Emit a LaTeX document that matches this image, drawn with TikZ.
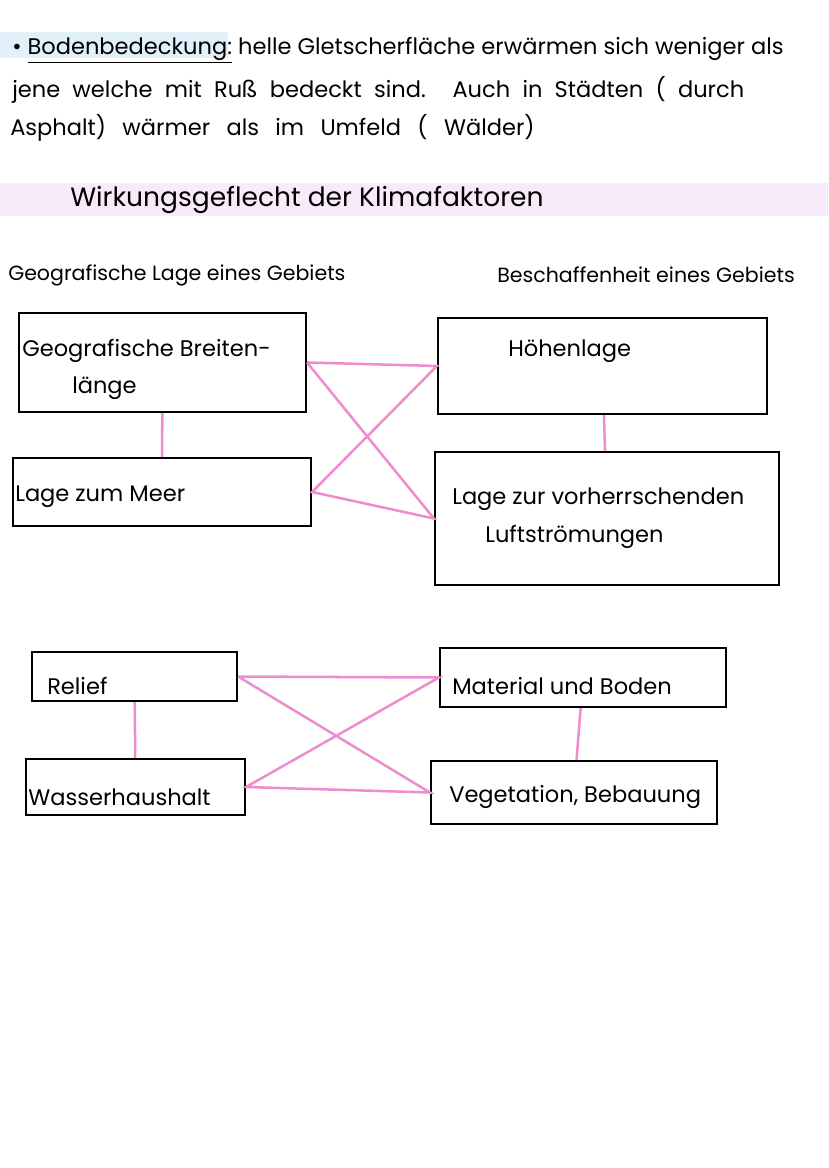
\documentclass[tikz,border=0pt]{standalone}
\usepackage{fontspec}
\setmainfont{Poppins}
\usetikzlibrary{fit}
\definecolor{rosa}{RGB}{238,140,205}
\definecolor{lila}{RGB}{249,234,249}
\definecolor{hellblau}{RGB}{226,240,250}
\tikzset{
  kasten/.style={draw, line width=1.6pt, inner sep=0pt},
  verb/.style={draw=rosa, line width=1.9pt},
  schrift/.style={anchor=west, inner sep=0pt, font=\fontsize{17}{20}\selectfont},
  kopf/.style={anchor=west, inner sep=0pt, font=\fontsize{15.5}{18}\selectfont},
  titel/.style={anchor=west, inner sep=0pt, font=\fontsize{20}{24}\selectfont},
}

\begin{document}
\begin{tikzpicture}[x=0.0265cm, y=-0.0265cm]
            \useasboundingbox (0,0) rectangle (828,1168);
            \fill[hellblau] (0,32) rectangle (228,58);
            \fill[lila] (0,183) rectangle (828,216);
            \node[schrift] (z1) at (12,50) {\textbullet\ \underline{Bodenbedeckung:} helle Gletscherfläche erwärmen sich weniger als};
            \node[schrift] (z2) at (12,90) {\makebox[19.4cm][s]{jene welche mit Ruß bedeckt sind. Auch in Städten ( durch}};
            \node[schrift] (z3) at (10,128) {\makebox[13.9cm][s]{Asphalt) wärmer als im Umfeld ( Wälder)}};
            \node[titel] (titel) at (70,200) {Wirkungsgeflecht der Klimafaktoren};
            \node[kopf] (lage) at (8,275) {Geografische Lage eines Gebiets};
            \node[kopf] (besch) at (497,275) {Beschaffenheit eines Gebiets};
            % obere Kaesten
            \node[kasten, fit={(19,313) (306,412)}] (geo) {};
            \node[kasten, fit={(438,318) (767,414)}] (hoehe) {};
            \node[kasten, fit={(13,458) (311,526)}] (meer) {};
            \node[kasten, fit={(435,452) (779,585)}] (luft) {};
            \node[schrift] (t-geo) at (22,351) {Geografische Breiten-};
            \node[schrift] (t-geo2) at (72,388) {länge};
            \node[schrift] (t-hoehe) at (508,351) {Höhenlage};
            \node[schrift] (t-meer) at (15,497) {Lage zum Meer};
            \node[schrift] (t-luft) at (452,499) {Lage zur vorherrschenden};
            \node[schrift] (t-luft2) at (485,537) {Luftströmungen};
            \draw[verb] (geo) -- (meer);
            \draw[verb] (hoehe) -- (luft);
            \draw[verb] (geo.east) -- (hoehe.west) -- (meer.east) -- (luft.west) -- (geo.east);
            % untere Kaesten
            \node[kasten, fit={(32,652) (237,701)}] (relief) {};
            \node[kasten, fit={(440,648) (726,707)}] (boden) {};
            \node[kasten, fit={(26,759) (245,815)}] (wasser) {};
            \node[kasten, fit={(431,761) (717,824)}] (veg) {};
            \node[schrift] (t-relief) at (47,686) {Relief};
            \node[schrift] (t-boden) at (452,686) {Material und Boden};
            \node[schrift] (t-wasser) at (28,797) {Wasserhaushalt};
            \node[schrift] (t-veg) at (449,797) {Vegetation, Bebauung};
            \draw[verb] (relief) -- (wasser);
            \draw[verb] (boden) -- (veg);
            \draw[verb] (relief.east) -- (boden.west) -- (wasser.east) -- (veg.west) -- (relief.east);
\end{tikzpicture}
\end{document}
